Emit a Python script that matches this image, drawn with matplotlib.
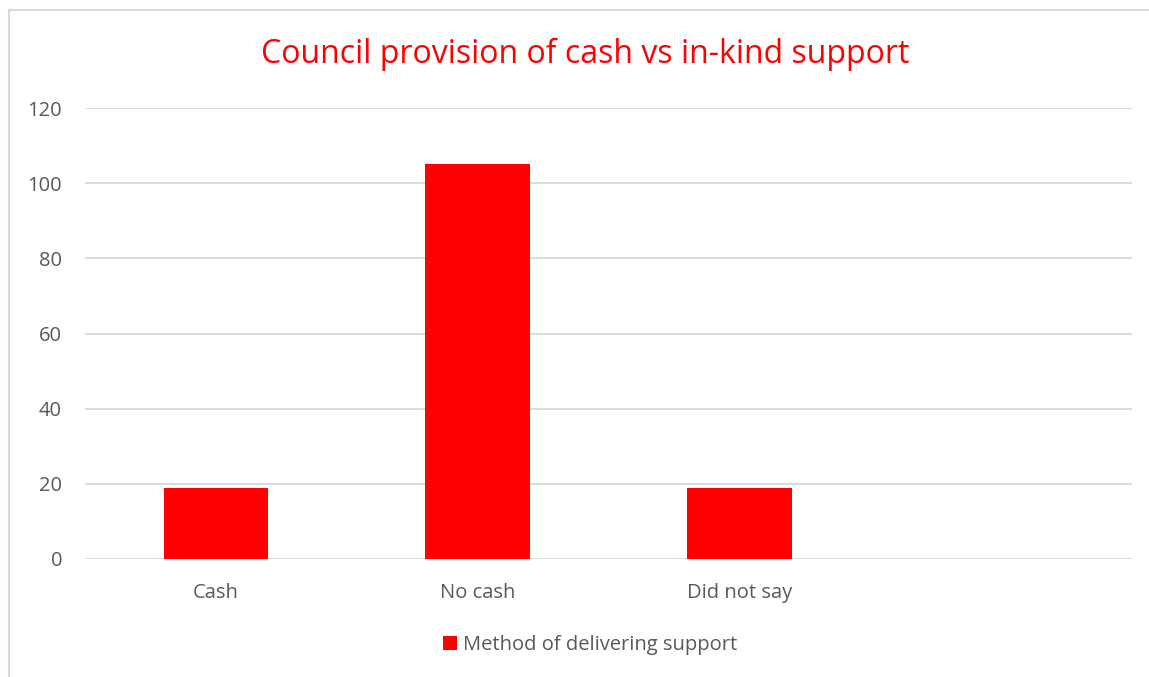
import matplotlib
matplotlib.use("Agg")
import matplotlib.pyplot as plt
from matplotlib.patches import Rectangle

categories = ["Cash", "No cash", "Did not say", ""]
values = [19, 105, 19, None]
series_name = "Method of delivering support"
yticks = [0, 20, 40, 60, 80, 100, 120]

W, H = 1149, 677
fig = plt.figure(figsize=(W/100, H/100), dpi=100)
plt.rcParams['font.family'] = ['Open Sans', 'DejaVu Sans']

# outer chart border
fig.patches.append(Rectangle((9/W, -0.1), 1.2, 1 - 10/H + 0.1, transform=fig.transFigure,
                             fill=False, edgecolor='#d9d9d9', linewidth=1.5, zorder=0))

left, right = 85/W, 1132/W
bottom, top = 1 - 559/H, 1 - 108/H
ax = fig.add_axes([left, bottom, right-left, top-bottom])

xs = list(range(len(categories)))
bar_x = [x for x, v in zip(xs, values) if v is not None]
bar_v = [v for v in values if v is not None]
ax.bar(bar_x, bar_v, width=0.4, color='#ff0000', label=series_name, zorder=3)

ax.set_xlim(-0.5, len(categories) - 0.5)
ax.set_ylim(0, 120)
ax.set_yticks(yticks)
ax.set_xticks(xs)
ax.set_xticklabels(categories)
ax.grid(axis='y', color='#d9d9d9', linewidth=1.3, zorder=0)
for s in ax.spines.values():
    s.set_visible(False)
ax.tick_params(axis='both', length=0, labelsize=14.5, colors='#595959')
ax.tick_params(axis='y', pad=16.5)
ax.tick_params(axis='x', pad=17)

fig.text(0.5 * (259 + 912) / W, 1 - 54/H, "Council provision of cash vs in-kind support",
         color='#ff0000', fontsize=23, ha='center', va='center')

leg = fig.legend(loc='center', bbox_to_anchor=(590/W, 1 - 645/H), frameon=False,
                 fontsize=14.5, handlelength=0.7, handleheight=0.7, handletextpad=0.3)
for t in leg.get_texts():
    t.set_color('#595959')

fig.savefig("out.png", dpi=100)
